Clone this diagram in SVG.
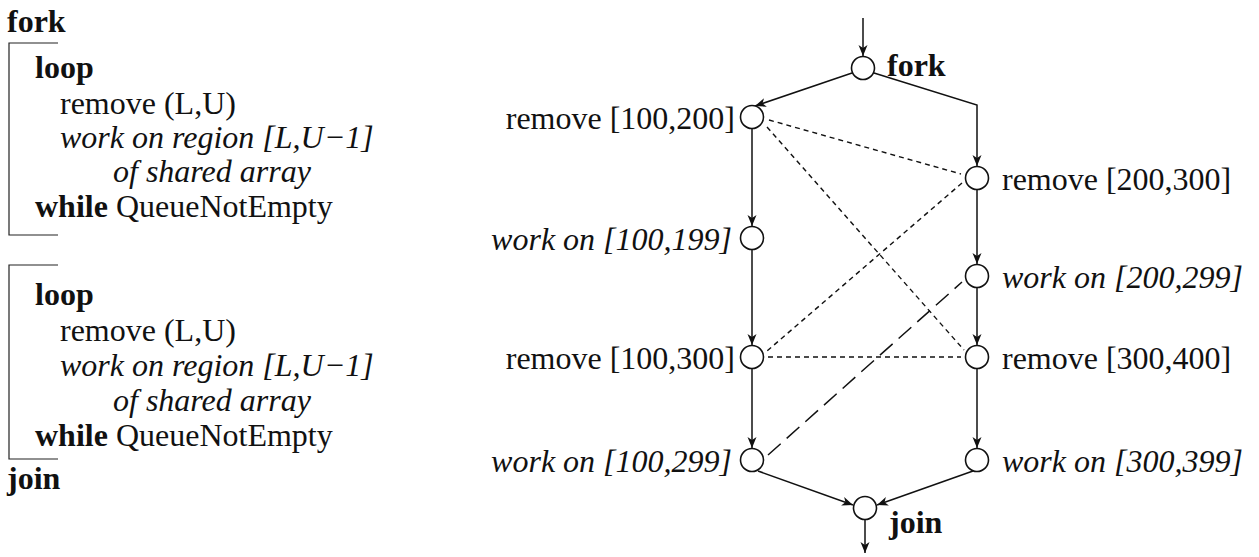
<svg xmlns="http://www.w3.org/2000/svg" width="1259" height="557" viewBox="0 0 1259 557">
  <style>
    text { font-family: "Liberation Serif", "Times New Roman", serif; font-size: 32px; fill: #111; }
    .b { font-weight: bold; }
    .i { font-style: italic; }
    .node { fill: #fff; stroke: #111; stroke-width: 1.6; }
    .edge { fill: none; stroke: #111; stroke-width: 1.5; marker-end: url(#arrow); }
    .dep { fill: none; stroke: #111; stroke-width: 1.4; stroke-dasharray: 5 4; }
    .dep-long { fill: none; stroke: #111; stroke-width: 1.5; stroke-dasharray: 17 8; }
    .bracket { fill: none; stroke: #222; stroke-width: 1.2; }
  </style>
  <defs>
    <marker id="arrow" markerUnits="userSpaceOnUse" markerWidth="12" markerHeight="10" refX="11" refY="5" orient="auto">
      <path d="M0,0.5 L11,5 L0,9.5 L3,5 Z" fill="#111"/>
    </marker>
  </defs>

  <!-- program text -->
  <g id="program">
    <text x="7" y="32" class="b">fork</text>
    <path class="bracket" d="M58,43 H9 V235 H58"/>
    <text x="35" y="78" class="b">loop</text>
    <text x="60" y="114">remove (L,U)</text>
    <text x="60" y="148" class="i">work on region [L,U−1]</text>
    <text x="113" y="182" class="i">of shared array</text>
    <text x="35" y="217"><tspan class="b">while</tspan> QueueNotEmpty</text>

    <path class="bracket" d="M58,265 H9 V459 H58"/>
    <text x="35" y="305" class="b">loop</text>
    <text x="60" y="341">remove (L,U)</text>
    <text x="60" y="376" class="i">work on region [L,U−1]</text>
    <text x="113" y="411" class="i">of shared array</text>
    <text x="35" y="446"><tspan class="b">while</tspan> QueueNotEmpty</text>
    <text x="7" y="489" class="b">join</text>
  </g>

  <!-- connectors -->
  <g id="connectors">
    <path class="edge" d="M863,18 V56"/>
    <path class="edge" d="M852,73 L755,106"/>
    <path class="edge" d="M874,73 L977,105 V166"/>
    <path class="edge" d="M752,129 V226"/>
    <path class="edge" d="M752,250 V345"/>
    <path class="edge" d="M752,369 V448"/>
    <path class="edge" d="M977,190 V264"/>
    <path class="edge" d="M977,288 V345"/>
    <path class="edge" d="M977,369 V448"/>
    <path class="edge" d="M758,471 L853,505"/>
    <path class="edge" d="M973,471 L877,505"/>
    <path class="edge" d="M865,520 V553"/>

    <path class="dep" d="M769,120 L961,174"/>
    <path class="dep" d="M767,127 L964,350"/>
    <path class="dep" d="M962,183 L767,351"/>
    <path class="dep" d="M768,357 H961"/>
    <path class="dep-long" d="M768,455 L962,282"/>
  </g>

  <!-- graph nodes -->
  <g id="n-fork"><circle class="node" cx="863" cy="68" r="11.5"/><text x="887" y="76" class="b">fork</text></g>
  <g id="n-rem-100-200"><circle class="node" cx="752" cy="117" r="11.5"/><text x="735" y="129" text-anchor="end">remove [100,200]</text></g>
  <g id="n-rem-200-300"><circle class="node" cx="977" cy="178" r="11.5"/><text x="1002" y="190">remove [200,300]</text></g>
  <g id="n-work-100-199"><circle class="node" cx="752" cy="238" r="11.5"/><text x="732" y="250" text-anchor="end" class="i">work on [100,199]</text></g>
  <g id="n-work-200-299"><circle class="node" cx="977" cy="276" r="11.5"/><text x="1002" y="288" class="i">work on [200,299]</text></g>
  <g id="n-rem-100-300"><circle class="node" cx="752" cy="357" r="11.5"/><text x="735" y="369" text-anchor="end">remove [100,300]</text></g>
  <g id="n-rem-300-400"><circle class="node" cx="977" cy="357" r="11.5"/><text x="1002" y="369">remove [300,400]</text></g>
  <g id="n-work-100-299"><circle class="node" cx="752" cy="460" r="11.5"/><text x="732" y="472" text-anchor="end" class="i">work on [100,299]</text></g>
  <g id="n-work-300-399"><circle class="node" cx="977" cy="460" r="11.5"/><text x="1002" y="472" class="i">work on [300,399]</text></g>
  <g id="n-join"><circle class="node" cx="865" cy="508" r="11.5"/><text x="889" y="533" class="b">join</text></g>
</svg>
